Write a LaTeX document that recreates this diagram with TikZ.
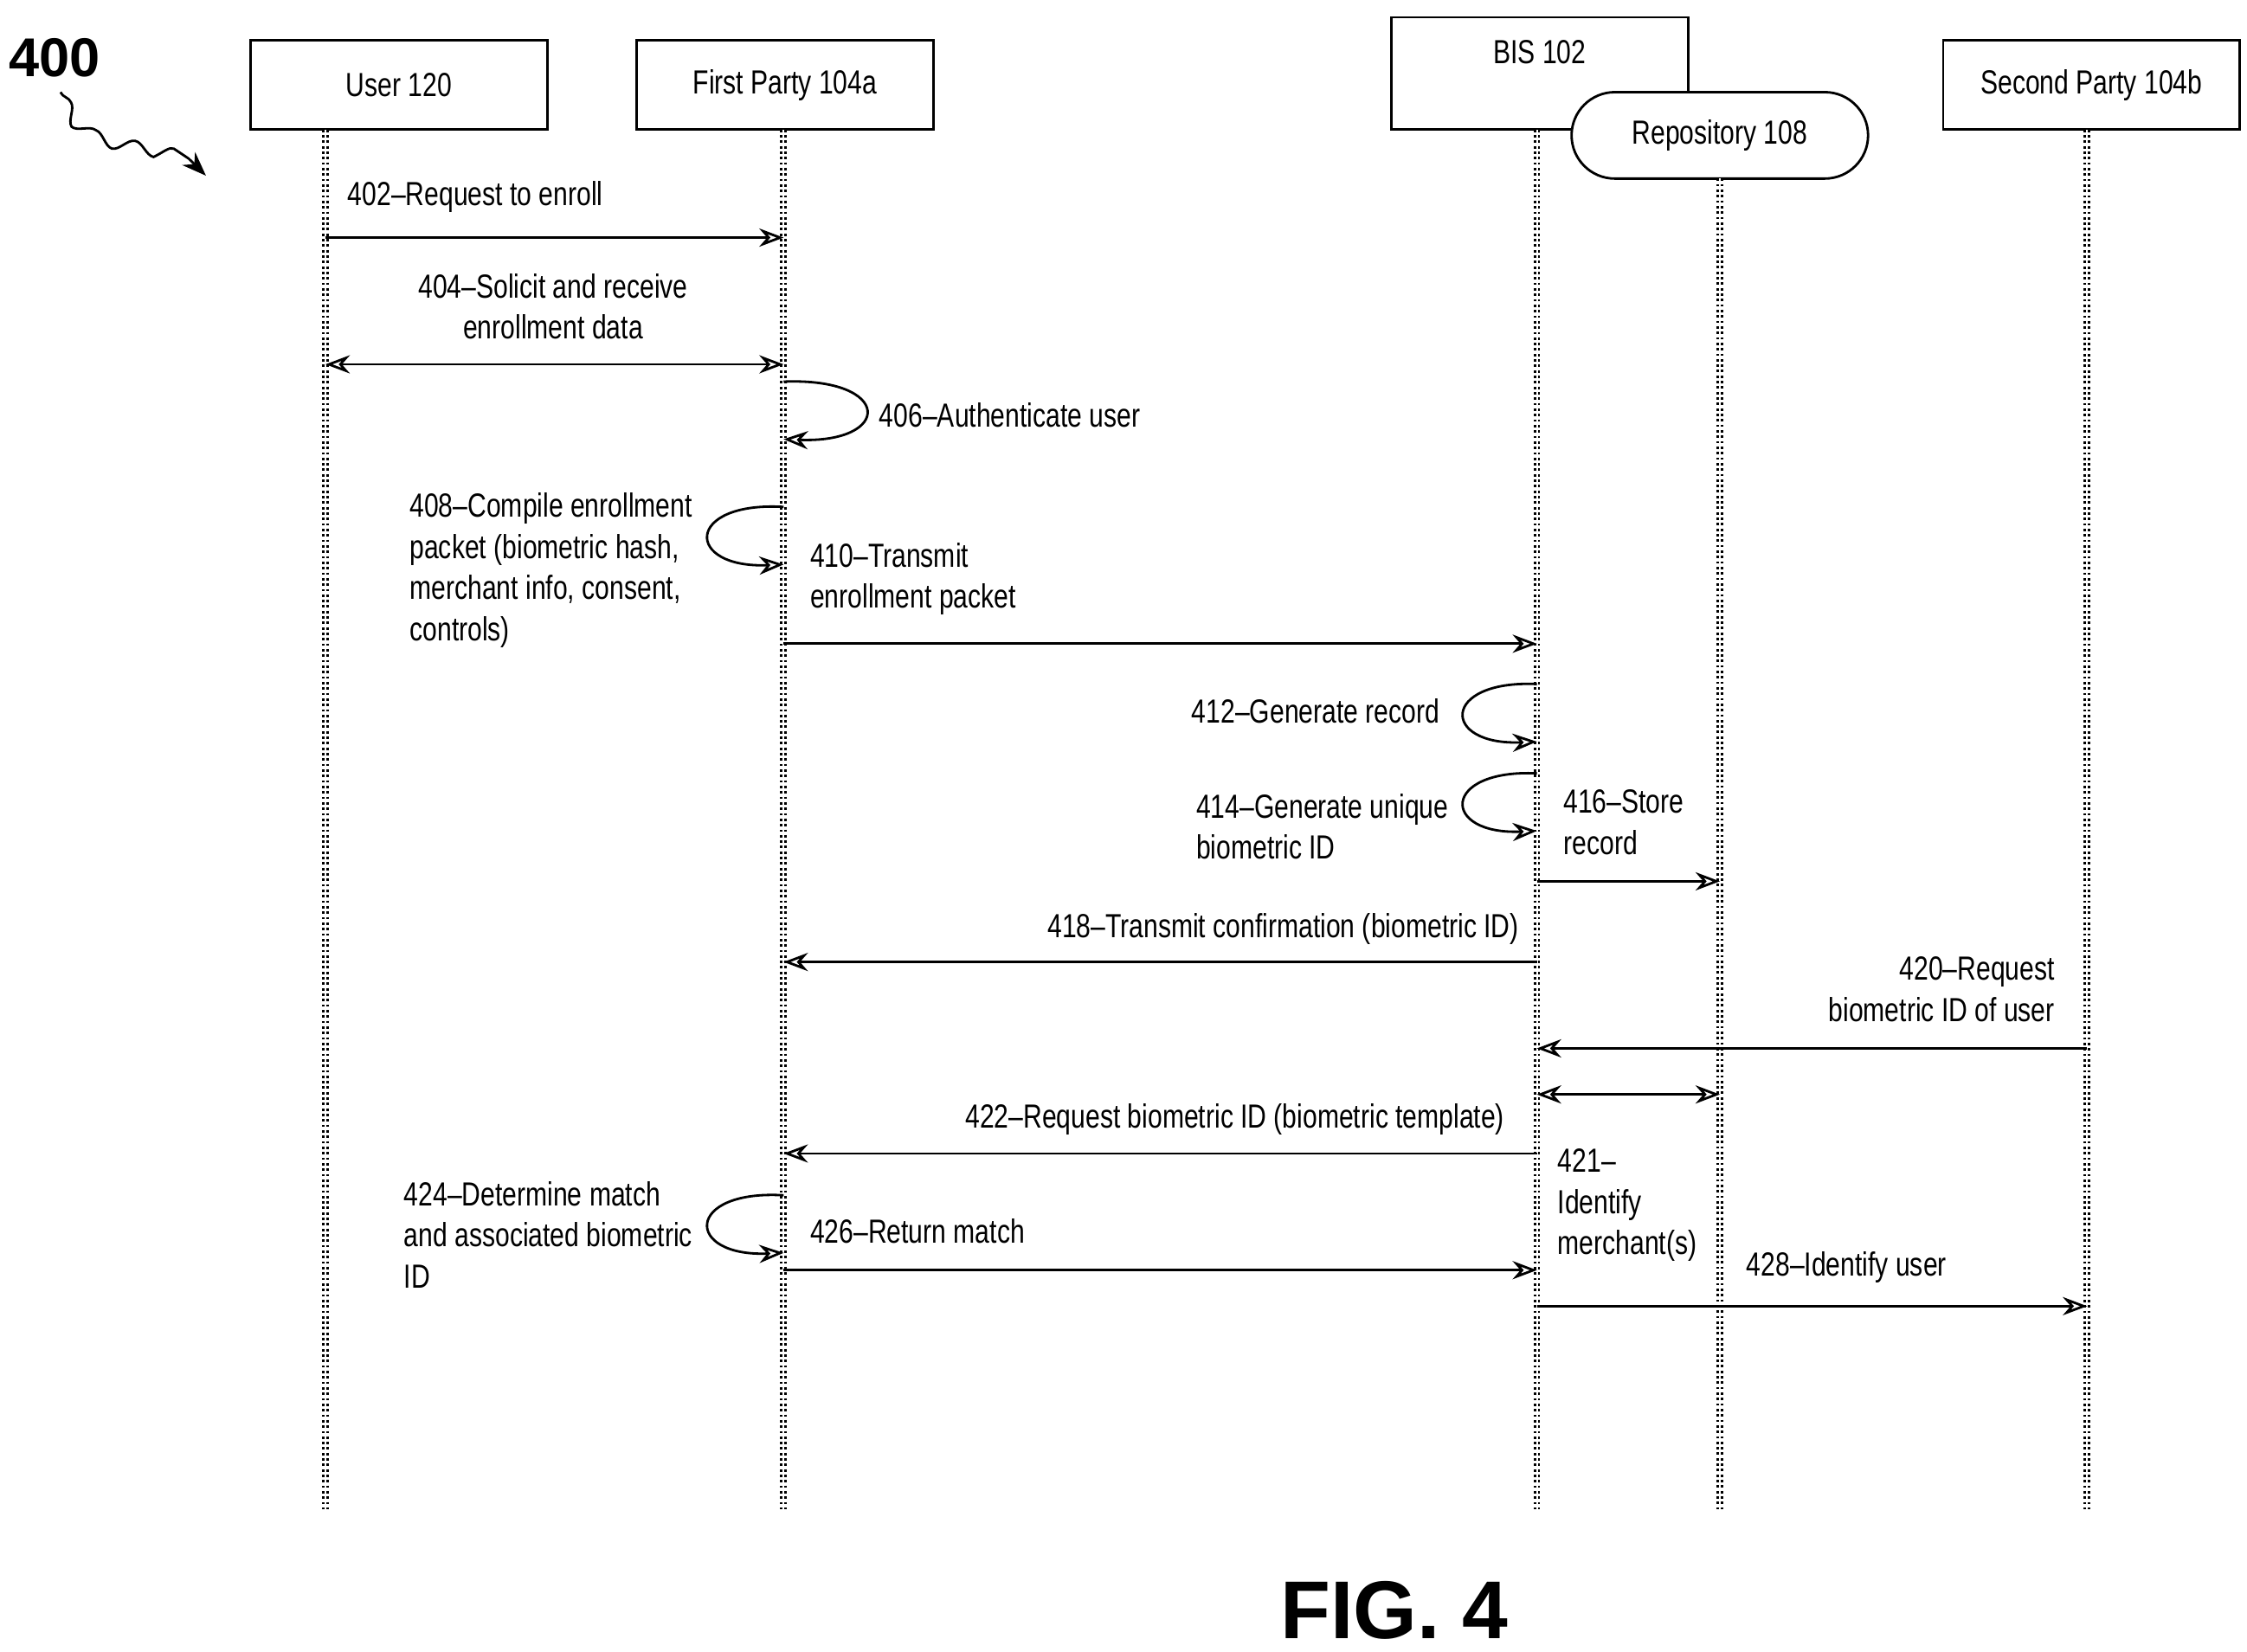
\documentclass[tikz,border=0pt]{standalone}
\usepackage{fontspec}
\setmainfont{Liberation Sans}
\newfontfamily\narrowfont[FakeStretch=0.78,Ligatures=TeX]{Liberation Sans}
\usetikzlibrary{arrows.meta,positioning,decorations.pathmorphing}
\tikzset{
  actor/.style={draw,thick,minimum width=3.43cm,minimum height=1.03cm,font=\narrowfont\fontsize{11}{12}\selectfont},
  life/.style={thick,densely dotted,double,double distance=0.6pt},
  msg/.style={thick,-{Stealth[length=8pt,width=6pt,open]}},
  dmsg/.style={thick,{Stealth[length=8pt,width=6pt,open]}-{Stealth[length=8pt,width=6pt,open]}},
  lbl/.style={font=\narrowfont\fontsize{11}{13.5}\selectfont,inner sep=1pt}
}
\begin{document}
\begin{tikzpicture}[x=0.016667cm,y=0.016667cm]
\useasboundingbox (0,0) rectangle (1560,-1147);
% actors
\node[actor] (user) at (277,-59) {User 120};
\node[actor] (fp) at (545,-59) {First Party 104a};
\node[actor,minimum height=1.3cm,text depth=0.5cm] (bis) at (1069,-51) {BIS 102};
\node[actor,fill=white,rounded corners=0.5cm,minimum height=1.0cm] (repo) at (1194,-94) {Repository 108};
\node[actor] (sp) at (1452,-59) {Second Party 104b};
% lifelines
\coordinate (uL) at (226,-90);
\coordinate (fL) at (544,-90);
\coordinate (bL) at (1067,-90);
\coordinate (rL) at (1194,-124);
\coordinate (sL) at (1449,-90);
\foreach \c in {uL,fL,bL,rL,sL}
  \draw[life] (\c) -- (\c |- 0,-1048);
% messages
\draw[msg] (uL |- 0,-165) -- (fL |- 0,-165);
\node[lbl] at (330,-137) {402--Request to enroll};
\draw[dmsg] (uL |- 0,-253) -- (fL |- 0,-253);
\node[lbl,align=center] at (384,-213) {404--Solicit and receive\\enrollment data};
\draw[msg] (fL |- 0,-265) .. controls (620,-262) and (620,-308) .. (fL |- 0,-305);
\node[lbl,anchor=west] at (608,-288) {406--Authenticate user};
\draw[msg] (fL |- 0,-352) .. controls (475,-348) and (475,-395) .. (fL |- 0,-392);
\node[lbl,anchor=north west,align=left] at (282,-340) {408--Compile enrollment\\packet (biometric hash,\\merchant info, consent,\\controls)};
\draw[msg] (fL |- 0,-447) -- (bL |- 0,-447);
\node[lbl,anchor=west,align=left] at (560,-402) {410--Transmit\\enrollment packet};
\draw[msg] (bL |- 0,-475) .. controls (1000,-472) and (1000,-518) .. (bL |- 0,-515);
\node[lbl,anchor=east] at (1002,-494) {412--Generate record};
\draw[msg] (bL |- 0,-537) .. controls (1000,-534) and (1000,-580) .. (bL |- 0,-577);
\node[lbl,anchor=west,align=left] at (828,-574) {414--Generate unique\\biometric ID};
\draw[msg] (bL |- 0,-612) -- (rL |- 0,-612);
\node[lbl,anchor=west,align=left] at (1083,-571) {416--Store\\record};
\draw[msg] (bL |- 0,-668) -- (fL |- 0,-668);
\node[lbl,anchor=east] at (1057,-645) {418--Transmit confirmation (biometric ID)};
\draw[msg] (sL |- 0,-728) -- (bL |- 0,-728);
\node[lbl,anchor=east,align=right] at (1429,-687) {420--Request\\biometric ID of user};
\draw[dmsg] (bL |- 0,-760) -- (rL |- 0,-760);
\node[lbl,anchor=west,align=left] at (1079,-837) {421--\\Identify\\merchant(s)};
\draw[msg] (bL |- 0,-801) -- (fL |- 0,-801);
\node[lbl,anchor=east] at (1047,-777) {422--Request biometric ID (biometric template)};
\draw[msg] (fL |- 0,-830) .. controls (475,-826) and (475,-873) .. (fL |- 0,-870);
\node[lbl,anchor=north west,align=left] at (278,-818) {424--Determine match\\and associated biometric\\ID};
\draw[msg] (fL |- 0,-882) -- (bL |- 0,-882);
\node[lbl,anchor=west] at (560,-855) {426--Return match};
\draw[msg] (bL |- 0,-907) -- (sL |- 0,-907);
\node[lbl,anchor=west] at (1210,-880) {428--Identify user};
% figure labels
\node[font=\bfseries\fontsize{18}{20}\selectfont] (ref) at (38,-40) {400};
\draw[thick,-{Stealth[length=8pt]},decorate,decoration={snake,amplitude=2pt,segment length=14pt,post length=8pt}] (42,-64) .. controls (60,-110) and (110,-80) .. (143,-122);
\node[font=\bfseries\fontsize{27}{30}\selectfont] (fig) at (968,-1118) {FIG. 4};
\end{tikzpicture}
\end{document}
